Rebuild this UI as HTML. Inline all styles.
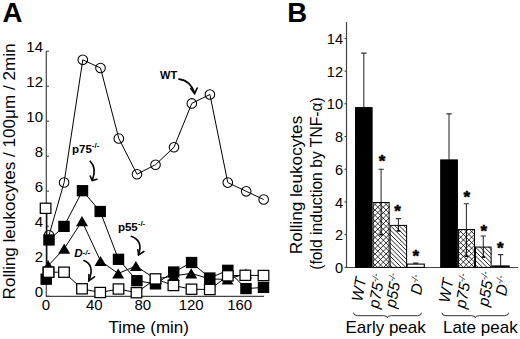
<!DOCTYPE html>
<html><head><meta charset="utf-8"><style>
html,body{margin:0;padding:0;background:#fff;}
svg{display:block;}
text{font-family:"Liberation Sans", sans-serif;fill:#000;}
</style></head><body>
<svg width="520" height="339" viewBox="0 0 520 339">
<rect width="520" height="339" fill="#fff"/>
<text x="2.6" y="22" font-size="27.6" font-weight="bold">A</text>
<path d="M46.3,51 V296.3 H264" fill="none" stroke="#444" stroke-width="1.2"/>
<path d="M46.5,296.2 H49" stroke="#333" stroke-width="1"/>
<text x="43" y="297.1" font-size="15" text-anchor="end">0</text>
<path d="M46.5,261.2 H49" stroke="#333" stroke-width="1"/>
<text x="43" y="262.1" font-size="15" text-anchor="end">2</text>
<path d="M46.5,226.2 H49" stroke="#333" stroke-width="1"/>
<text x="43" y="227.1" font-size="15" text-anchor="end">4</text>
<path d="M46.5,191.2 H49" stroke="#333" stroke-width="1"/>
<text x="43" y="192.1" font-size="15" text-anchor="end">6</text>
<path d="M46.5,156.2 H49" stroke="#333" stroke-width="1"/>
<text x="43" y="157.1" font-size="15" text-anchor="end">8</text>
<path d="M46.5,121.2 H49" stroke="#333" stroke-width="1"/>
<text x="43" y="122.1" font-size="15" text-anchor="end">10</text>
<path d="M46.5,86.2 H49" stroke="#333" stroke-width="1"/>
<text x="43" y="87.1" font-size="15" text-anchor="end">12</text>
<path d="M46.5,51.2 H49" stroke="#333" stroke-width="1"/>
<text x="43" y="52.1" font-size="15" text-anchor="end">14</text>
<text x="45.8" y="310.3" font-size="15" text-anchor="middle">0</text>
<text x="94.3" y="310.3" font-size="15" text-anchor="middle">40</text>
<text x="142.8" y="310.3" font-size="15" text-anchor="middle">80</text>
<text x="191.2" y="310.3" font-size="15" text-anchor="middle">120</text>
<text x="239.7" y="310.3" font-size="15" text-anchor="middle">160</text>
<text x="148.7" y="332.9" font-size="17" text-anchor="middle">Time (min)</text>
<text transform="translate(15.4,171.5) rotate(-90)" font-size="17.1" text-anchor="middle">Rolling leukocytes / 100μm / 2min</text>
<path d="M46.8,213 V284" stroke="#000" stroke-width="1.2"/>
<polyline points="49.0,235.3 64.1,182.5 82.8,59.8 100.5,68.0 118.8,138.5 137.0,174.2 155.5,164.7 174.0,147.2 191.8,103.4 209.9,94.5 227.8,182.6 246.2,191.3 263.7,199.5" fill="none" stroke="#000" stroke-width="1.00"/>
<polyline points="49.0,240.0 64.0,226.4 82.5,190.7 100.2,211.5 118.5,259.3 136.9,280.7 155.5,283.9 173.7,272.0 191.6,262.5 209.8,278.0 227.8,270.3 246.0,288.6 263.5,287.4" fill="none" stroke="#000" stroke-width="1.00"/>
<polyline points="48.3,265.5 64.2,248.7 82.0,221.1 100.5,261.0 118.2,273.5 135.9,266.0 155.5,279.0 173.7,276.0 191.2,273.3 209.8,279.0 227.5,279.3 246.0,273.5" fill="none" stroke="#000" stroke-width="1.00"/>
<polyline points="48.5,272.2 64.0,272.2 82.0,288.8 100.2,292.5 118.5,289.0 136.5,292.7 155.5,278.9 173.4,285.5 191.5,289.2 209.8,289.5 227.8,275.8 245.3,275.3 263.5,275.5" fill="none" stroke="#000" stroke-width="1.00"/>
<circle cx="49.0" cy="235.3" r="4.8" fill="none" stroke="#000" stroke-width="1.05"/>
<circle cx="64.1" cy="182.5" r="4.8" fill="none" stroke="#000" stroke-width="1.05"/>
<circle cx="82.8" cy="59.8" r="4.8" fill="none" stroke="#000" stroke-width="1.05"/>
<circle cx="100.5" cy="68.0" r="4.8" fill="none" stroke="#000" stroke-width="1.05"/>
<circle cx="118.8" cy="138.5" r="4.8" fill="none" stroke="#000" stroke-width="1.05"/>
<circle cx="137.0" cy="174.2" r="4.8" fill="none" stroke="#000" stroke-width="1.05"/>
<circle cx="155.5" cy="164.7" r="4.8" fill="none" stroke="#000" stroke-width="1.05"/>
<circle cx="174.0" cy="147.2" r="4.8" fill="none" stroke="#000" stroke-width="1.05"/>
<circle cx="191.8" cy="103.4" r="4.8" fill="none" stroke="#000" stroke-width="1.05"/>
<circle cx="209.9" cy="94.5" r="4.8" fill="none" stroke="#000" stroke-width="1.05"/>
<circle cx="227.8" cy="182.6" r="4.8" fill="none" stroke="#000" stroke-width="1.05"/>
<circle cx="246.2" cy="191.3" r="4.8" fill="none" stroke="#000" stroke-width="1.05"/>
<circle cx="263.7" cy="199.5" r="4.8" fill="none" stroke="#000" stroke-width="1.05"/>
<rect x="43.90" y="235.00" width="10.20" height="10.00" fill="#000" stroke="#000" stroke-width="1.25"/>
<rect x="58.90" y="221.40" width="10.20" height="10.00" fill="#000" stroke="#000" stroke-width="1.25"/>
<rect x="77.40" y="185.70" width="10.20" height="10.00" fill="#000" stroke="#000" stroke-width="1.25"/>
<rect x="95.10" y="206.50" width="10.20" height="10.00" fill="#000" stroke="#000" stroke-width="1.25"/>
<rect x="113.40" y="254.30" width="10.20" height="10.00" fill="#000" stroke="#000" stroke-width="1.25"/>
<rect x="131.80" y="275.70" width="10.20" height="10.00" fill="#000" stroke="#000" stroke-width="1.25"/>
<rect x="150.40" y="278.90" width="10.20" height="10.00" fill="#000" stroke="#000" stroke-width="1.25"/>
<rect x="168.60" y="267.00" width="10.20" height="10.00" fill="#000" stroke="#000" stroke-width="1.25"/>
<rect x="186.50" y="257.50" width="10.20" height="10.00" fill="#000" stroke="#000" stroke-width="1.25"/>
<rect x="204.70" y="273.00" width="10.20" height="10.00" fill="#000" stroke="#000" stroke-width="1.25"/>
<rect x="222.70" y="265.30" width="10.20" height="10.00" fill="#000" stroke="#000" stroke-width="1.25"/>
<rect x="240.90" y="283.60" width="10.20" height="10.00" fill="#000" stroke="#000" stroke-width="1.25"/>
<rect x="258.40" y="282.40" width="10.20" height="10.00" fill="#000" stroke="#000" stroke-width="1.25"/>
<path d="M48.3,260.4 L54.3,270.6 L42.3,270.6 Z" fill="#000"/>
<path d="M64.2,243.6 L70.2,253.8 L58.2,253.8 Z" fill="#000"/>
<path d="M82.0,216.0 L88.0,226.2 L76.0,226.2 Z" fill="#000"/>
<path d="M100.5,255.9 L106.5,266.1 L94.5,266.1 Z" fill="#000"/>
<path d="M118.2,268.4 L124.2,278.6 L112.2,278.6 Z" fill="#000"/>
<path d="M135.9,260.9 L141.9,271.1 L129.9,271.1 Z" fill="#000"/>
<path d="M155.5,273.9 L161.5,284.1 L149.5,284.1 Z" fill="#000"/>
<path d="M173.7,270.9 L179.7,281.1 L167.7,281.1 Z" fill="#000"/>
<path d="M191.2,268.2 L197.2,278.4 L185.2,278.4 Z" fill="#000"/>
<path d="M209.8,273.9 L215.8,284.1 L203.8,284.1 Z" fill="#000"/>
<path d="M227.5,274.2 L233.5,284.4 L221.5,284.4 Z" fill="#000"/>
<path d="M246.0,268.4 L252.0,278.6 L240.0,278.6 Z" fill="#000"/>
<rect x="43.20" y="267.10" width="10.60" height="10.20" fill="#fff" stroke="#000" stroke-width="1.25"/>
<rect x="58.70" y="267.10" width="10.60" height="10.20" fill="#fff" stroke="#000" stroke-width="1.25"/>
<rect x="76.70" y="283.70" width="10.60" height="10.20" fill="#fff" stroke="#000" stroke-width="1.25"/>
<rect x="94.90" y="287.40" width="10.60" height="10.20" fill="#fff" stroke="#000" stroke-width="1.25"/>
<rect x="113.20" y="283.90" width="10.60" height="10.20" fill="#fff" stroke="#000" stroke-width="1.25"/>
<rect x="131.20" y="287.60" width="10.60" height="10.20" fill="#fff" stroke="#000" stroke-width="1.25"/>
<rect x="150.20" y="273.80" width="10.60" height="10.20" fill="#fff" stroke="#000" stroke-width="1.25"/>
<rect x="168.10" y="280.40" width="10.60" height="10.20" fill="#fff" stroke="#000" stroke-width="1.25"/>
<rect x="186.20" y="284.10" width="10.60" height="10.20" fill="#fff" stroke="#000" stroke-width="1.25"/>
<rect x="204.50" y="284.40" width="10.60" height="10.20" fill="#fff" stroke="#000" stroke-width="1.25"/>
<rect x="222.50" y="270.70" width="10.60" height="10.20" fill="#fff" stroke="#000" stroke-width="1.25"/>
<rect x="240.00" y="270.20" width="10.60" height="10.20" fill="#fff" stroke="#000" stroke-width="1.25"/>
<rect x="258.20" y="270.40" width="10.60" height="10.20" fill="#fff" stroke="#000" stroke-width="1.25"/>
<rect x="40.30" y="203.20" width="10.60" height="10.20" fill="#fff" stroke="#000" stroke-width="1.25"/>
<rect x="41.10" y="274.20" width="10.20" height="10.00" fill="#000" stroke="#000" stroke-width="1.25"/>
<rect x="43.20" y="267.10" width="10.60" height="10.20" fill="#fff" stroke="#000" stroke-width="1.25"/>
<text x="160" y="78.6" font-size="11" font-weight="bold">WT</text>
<path d="M178.9,79.1 Q190,80 194.6,93.2" fill="none" stroke="#000" stroke-width="1.6" stroke-linecap="round"/><path d="M190.7,88.5 L194.6,93.6 L197.2,88.0" fill="none" stroke="#000" stroke-width="1.6" stroke-linecap="round" stroke-linejoin="miter"/>
<text x="72" y="152.9" font-size="11.5" font-weight="bold">p75<tspan font-size="8" dy="-5">-/-</tspan></text>
<path d="M90.2,161.2 Q97,168 92.4,180" fill="none" stroke="#000" stroke-width="1.6" stroke-linecap="round"/><path d="M90.2,176.0 L92.2,180.5 L96.9,179.3" fill="none" stroke="#000" stroke-width="1.6" stroke-linecap="round" stroke-linejoin="miter"/>
<text x="117.9" y="231" font-size="11.5" font-weight="bold">p55<tspan font-size="8" dy="-5">-/-</tspan></text>
<path d="M131.3,236.3 Q143.5,241 138.6,254.6" fill="none" stroke="#000" stroke-width="1.6" stroke-linecap="round"/><path d="M137.9,249.8 L138.6,254.9 L143.9,251.5" fill="none" stroke="#000" stroke-width="1.6" stroke-linecap="round" stroke-linejoin="miter"/>
<text x="74.2" y="256.6" font-size="11.6" font-weight="bold" font-style="italic">D<tspan font-size="8" dy="-1.2">-/-</tspan></text>
<path d="M84,260.5 Q95,265 89,280.4" fill="none" stroke="#000" stroke-width="1.6" stroke-linecap="round"/><path d="M88.9,274.5 L88.9,280.7 L94.5,276.8" fill="none" stroke="#000" stroke-width="1.6" stroke-linecap="round" stroke-linejoin="miter"/>
<text x="287.3" y="21.8" font-size="27.6" font-weight="bold">B</text>
<path d="M346.5,22 V267.5 H518" fill="none" stroke="#444" stroke-width="1.2"/>
<path d="M344.5,267.4 H346.5" stroke="#333" stroke-width="1"/>
<text x="343" y="273.0" font-size="14.6" text-anchor="end">0</text>
<path d="M344.5,234.7 H346.5" stroke="#333" stroke-width="1"/>
<text x="343" y="240.3" font-size="14.6" text-anchor="end">2</text>
<path d="M344.5,202.0 H346.5" stroke="#333" stroke-width="1"/>
<text x="343" y="207.6" font-size="14.6" text-anchor="end">4</text>
<path d="M344.5,169.2 H346.5" stroke="#333" stroke-width="1"/>
<text x="343" y="174.8" font-size="14.6" text-anchor="end">6</text>
<path d="M344.5,136.5 H346.5" stroke="#333" stroke-width="1"/>
<text x="343" y="142.1" font-size="14.6" text-anchor="end">8</text>
<path d="M344.5,103.8 H346.5" stroke="#333" stroke-width="1"/>
<text x="343" y="109.4" font-size="14.6" text-anchor="end">10</text>
<path d="M344.5,71.1 H346.5" stroke="#333" stroke-width="1"/>
<text x="343" y="76.7" font-size="14.6" text-anchor="end">12</text>
<path d="M344.5,38.4 H346.5" stroke="#333" stroke-width="1"/>
<text x="343" y="44.0" font-size="14.6" text-anchor="end">14</text>
<text transform="translate(301.6,185) rotate(-90)" font-size="17.2" text-anchor="middle">Rolling leukocytes</text>
<text transform="translate(322.3,183.5) rotate(-90)" font-size="15.7" text-anchor="middle">(fold induction by TNF-α)</text>
<defs>
<pattern id="xh" patternUnits="userSpaceOnUse" x="0.4" y="0.6" width="5.3" height="5.3">
<path d="M-1,-1 L6.3,6.3 M6.3,-1 L-1,6.3" stroke="#000" stroke-width="0.85"/>
</pattern>
<pattern id="dh" patternUnits="userSpaceOnUse" width="3.8" height="3.8">
<path d="M-1,-1 L4.8,4.8 M-1,2.8 L1,4.8 M2.8,-1 L4.8,1" stroke="#000" stroke-width="0.85"/>
</pattern>
</defs>
<path d="M363.8,107.1 V53.1 M361.1,53.1 H366.5" stroke="#333" stroke-width="1.1"/>
<rect x="355.5" y="107.6" width="16.6" height="159.8" fill="#000" stroke="#000" stroke-width="1"/>
<path d="M381.1,202.0 V169.2 M378.4,169.2 H383.8" stroke="#333" stroke-width="1.1"/>
<rect x="372.6" y="202.0" width="17.0" height="65.4" fill="#fff"/>
<clipPath id="c1"><rect x="372.60" y="201.96" width="17.00" height="65.44"/></clipPath><path clip-path="url(#c1)" d="M301.10,267.40 L366.54,201.96 M301.10,201.96 L366.54,267.40 M306.60,267.40 L372.04,201.96 M306.60,201.96 L372.04,267.40 M312.10,267.40 L377.54,201.96 M312.10,201.96 L377.54,267.40 M317.60,267.40 L383.04,201.96 M317.60,201.96 L383.04,267.40 M323.10,267.40 L388.54,201.96 M323.10,201.96 L388.54,267.40 M328.60,267.40 L394.04,201.96 M328.60,201.96 L394.04,267.40 M334.10,267.40 L399.54,201.96 M334.10,201.96 L399.54,267.40 M339.60,267.40 L405.04,201.96 M339.60,201.96 L405.04,267.40 M345.10,267.40 L410.54,201.96 M345.10,201.96 L410.54,267.40 M350.60,267.40 L416.04,201.96 M350.60,201.96 L416.04,267.40 M356.10,267.40 L421.54,201.96 M356.10,201.96 L421.54,267.40 M361.60,267.40 L427.04,201.96 M361.60,201.96 L427.04,267.40 M367.10,267.40 L432.54,201.96 M367.10,201.96 L432.54,267.40 M372.60,267.40 L438.04,201.96 M372.60,201.96 L438.04,267.40 M378.10,267.40 L443.54,201.96 M378.10,201.96 L443.54,267.40 M383.60,267.40 L449.04,201.96 M383.60,201.96 L449.04,267.40 M389.10,267.40 L454.54,201.96 M389.10,201.96 L454.54,267.40 M394.60,267.40 L460.04,201.96 M394.60,201.96 L460.04,267.40 M400.10,267.40 L465.54,201.96 M400.10,201.96 L465.54,267.40 M405.60,267.40 L471.04,201.96 M405.60,201.96 L471.04,267.40 M411.10,267.40 L476.54,201.96 M411.10,201.96 L476.54,267.40 M416.60,267.40 L482.04,201.96 M416.60,201.96 L482.04,267.40 M422.10,267.40 L487.54,201.96 M422.10,201.96 L487.54,267.40 M427.60,267.40 L493.04,201.96 M427.60,201.96 L493.04,267.40 M433.10,267.40 L498.54,201.96 M433.10,201.96 L498.54,267.40 M438.60,267.40 L504.04,201.96 M438.60,201.96 L504.04,267.40 M444.10,267.40 L509.54,201.96 M444.10,201.96 L509.54,267.40 M449.60,267.40 L515.04,201.96 M449.60,201.96 L515.04,267.40 M455.10,267.40 L520.54,201.96 M455.10,201.96 L520.54,267.40" stroke="#000" stroke-width="0.80" fill="none"/>
<rect x="373.1" y="202.5" width="16.0" height="64.9" fill="none" stroke="#000" stroke-width="1"/>
<path d="M381.1,202.0 V234.7" stroke="#111" stroke-width="1.15"/>
<path d="M379.3,234.7 H382.9" stroke="#000" stroke-width="1.6"/>
<text x="382.1" y="167.4" font-size="17" font-weight="bold" text-anchor="middle" stroke="#000" stroke-width="0.5">*</text>
<path d="M398.4,224.9 V218.6 M395.7,218.6 H401.1" stroke="#333" stroke-width="1.1"/>
<rect x="389.6" y="224.9" width="17.5" height="42.5" fill="#fff"/>
<clipPath id="c2"><rect x="389.60" y="224.86" width="17.50" height="42.54"/></clipPath><path clip-path="url(#c2)" d="M341.20,224.86 L383.74,267.40 M345.60,224.86 L388.14,267.40 M350.00,224.86 L392.54,267.40 M354.40,224.86 L396.94,267.40 M358.80,224.86 L401.34,267.40 M363.20,224.86 L405.74,267.40 M367.60,224.86 L410.14,267.40 M372.00,224.86 L414.54,267.40 M376.40,224.86 L418.94,267.40 M380.80,224.86 L423.34,267.40 M385.20,224.86 L427.74,267.40 M389.60,224.86 L432.14,267.40 M394.00,224.86 L436.54,267.40 M398.40,224.86 L440.94,267.40 M402.80,224.86 L445.34,267.40 M407.20,224.86 L449.74,267.40" stroke="#000" stroke-width="0.85" fill="none"/>
<rect x="390.1" y="225.4" width="16.5" height="42.0" fill="none" stroke="#000" stroke-width="1"/>
<path d="M398.4,224.9 V230.9" stroke="#111" stroke-width="1.15"/>
<path d="M396.6,230.9 H400.2" stroke="#000" stroke-width="1.6"/>
<text x="397.6" y="216.7" font-size="17" font-weight="bold" text-anchor="middle" stroke="#000" stroke-width="0.5">*</text>
<path d="M415.7,264.1 V263.1 M413.0,263.1 H418.4" stroke="#333" stroke-width="1.1"/>
<rect x="407.1" y="264.1" width="17.2" height="3.3" fill="#fff" stroke="#000" stroke-width="1.1"/>
<text x="415.7" y="261.6" font-size="17" font-weight="bold" text-anchor="middle" stroke="#000" stroke-width="0.5">*</text>
<path d="M449.0,159.4 V113.9 M446.3,113.9 H451.7" stroke="#333" stroke-width="1.1"/>
<rect x="440.7" y="159.9" width="16.7" height="107.5" fill="#000" stroke="#000" stroke-width="1"/>
<path d="M466.4,229.0 V203.8 M463.8,203.8 H469.1" stroke="#333" stroke-width="1.1"/>
<rect x="457.9" y="229.0" width="17.1" height="38.4" fill="#fff"/>
<clipPath id="c3"><rect x="457.90" y="228.95" width="17.10" height="38.45"/></clipPath><path clip-path="url(#c3)" d="M413.90,267.40 L452.35,228.95 M413.90,228.95 L452.35,267.40 M419.40,267.40 L457.85,228.95 M419.40,228.95 L457.85,267.40 M424.90,267.40 L463.35,228.95 M424.90,228.95 L463.35,267.40 M430.40,267.40 L468.85,228.95 M430.40,228.95 L468.85,267.40 M435.90,267.40 L474.35,228.95 M435.90,228.95 L474.35,267.40 M441.40,267.40 L479.85,228.95 M441.40,228.95 L479.85,267.40 M446.90,267.40 L485.35,228.95 M446.90,228.95 L485.35,267.40 M452.40,267.40 L490.85,228.95 M452.40,228.95 L490.85,267.40 M457.90,267.40 L496.35,228.95 M457.90,228.95 L496.35,267.40 M463.40,267.40 L501.85,228.95 M463.40,228.95 L501.85,267.40 M468.90,267.40 L507.35,228.95 M468.90,228.95 L507.35,267.40 M474.40,267.40 L512.85,228.95 M474.40,228.95 L512.85,267.40 M479.90,267.40 L518.35,228.95 M479.90,228.95 L518.35,267.40 M485.40,267.40 L523.85,228.95 M485.40,228.95 L523.85,267.40 M490.90,267.40 L529.35,228.95 M490.90,228.95 L529.35,267.40 M496.40,267.40 L534.85,228.95 M496.40,228.95 L534.85,267.40 M501.90,267.40 L540.35,228.95 M501.90,228.95 L540.35,267.40 M507.40,267.40 L545.85,228.95 M507.40,228.95 L545.85,267.40 M512.90,267.40 L551.35,228.95 M512.90,228.95 L551.35,267.40 M518.40,267.40 L556.85,228.95 M518.40,228.95 L556.85,267.40" stroke="#000" stroke-width="0.80" fill="none"/>
<rect x="458.4" y="229.5" width="16.1" height="37.9" fill="none" stroke="#000" stroke-width="1"/>
<path d="M466.4,229.0 V256.3" stroke="#111" stroke-width="1.15"/>
<path d="M464.6,256.3 H468.2" stroke="#000" stroke-width="1.6"/>
<text x="466.8" y="203.3" font-size="17" font-weight="bold" text-anchor="middle" stroke="#000" stroke-width="0.5">*</text>
<path d="M483.3,246.6 V236.0 M480.6,236.0 H486.0" stroke="#333" stroke-width="1.1"/>
<rect x="475.0" y="246.6" width="16.6" height="20.8" fill="#fff"/>
<clipPath id="c4"><rect x="475.00" y="246.62" width="16.60" height="20.78"/></clipPath><path clip-path="url(#c4)" d="M448.60,246.62 L469.38,267.40 M453.00,246.62 L473.78,267.40 M457.40,246.62 L478.18,267.40 M461.80,246.62 L482.58,267.40 M466.20,246.62 L486.98,267.40 M470.60,246.62 L491.38,267.40 M475.00,246.62 L495.78,267.40 M479.40,246.62 L500.18,267.40 M483.80,246.62 L504.58,267.40 M488.20,246.62 L508.98,267.40 M492.60,246.62 L513.38,267.40" stroke="#000" stroke-width="0.85" fill="none"/>
<rect x="475.5" y="247.1" width="15.6" height="20.3" fill="none" stroke="#000" stroke-width="1"/>
<path d="M483.3,246.6 V257.1" stroke="#111" stroke-width="1.15"/>
<path d="M481.5,257.1 H485.1" stroke="#000" stroke-width="1.6"/>
<text x="483.8" y="236.8" font-size="17" font-weight="bold" text-anchor="middle" stroke="#000" stroke-width="0.5">*</text>
<path d="M500.6,265.8 V254.6 M497.9,254.6 H503.3" stroke="#333" stroke-width="1.1"/>
<rect x="491.6" y="265.4" width="18.1" height="2.0" fill="#000"/>
<text x="500.4" y="253.8" font-size="17" font-weight="bold" text-anchor="middle" stroke="#000" stroke-width="0.5">*</text>
<text transform="translate(362.0,302.2) rotate(-80)" font-size="15.6" font-style="italic">WT</text>
<text transform="translate(378.8,309.1) rotate(-80)" font-size="15.6" font-style="italic">p75<tspan font-size="9" dy="-6">-/-</tspan></text>
<text transform="translate(395.6,308.5) rotate(-80)" font-size="15.6" font-style="italic">p55<tspan font-size="9" dy="-6">-/-</tspan></text>
<text transform="translate(421.0,295.5) rotate(-80)" font-size="15.6" font-style="italic">D<tspan font-size="9" dy="-6">-/-</tspan></text>
<text transform="translate(449.2,303.5) rotate(-80)" font-size="15.6" font-style="italic">WT</text>
<text transform="translate(465.6,309.1) rotate(-80)" font-size="15.6" font-style="italic">p75<tspan font-size="9" dy="-6">-/-</tspan></text>
<text transform="translate(488.2,307.0) rotate(-80)" font-size="15.6" font-style="italic">p55<tspan font-size="9" dy="-6">-/-</tspan></text>
<text transform="translate(505.9,296.5) rotate(-80)" font-size="15.6" font-style="italic">D<tspan font-size="9" dy="-6">-/-</tspan></text>
<path d="M353.5,312.7 Q353.5,315.7 357.5,315.7 H383.5 Q387.5,315.7 387.5,317.7 Q387.5,315.7 391.5,315.7 H417.5 Q421.5,315.7 421.5,312.7" fill="none" stroke="#333" stroke-width="1"/>
<path d="M442.0,312.7 Q442.0,315.7 446.0,315.7 H471.3 Q475.3,315.7 475.3,317.7 Q475.3,315.7 479.3,315.7 H504.6 Q508.6,315.7 508.6,312.7" fill="none" stroke="#333" stroke-width="1"/>
<text x="385.6" y="332.5" font-size="17" text-anchor="middle">Early peak</text>
<text x="480.3" y="332.5" font-size="17" text-anchor="middle">Late peak</text>
</svg>
</body></html>
